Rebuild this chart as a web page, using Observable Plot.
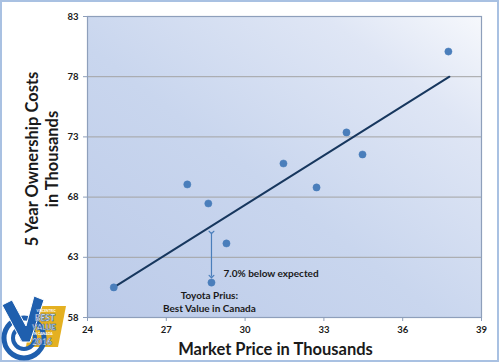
<!DOCTYPE html>
<html><head><meta charset="utf-8">
<script src="https://cdn.jsdelivr.net/npm/d3@7"></script>
<script src="https://cdn.jsdelivr.net/npm/@observablehq/plot@0.6"></script>
<style>
html,body{margin:0;padding:0;background:#fff;}
#wrap{position:relative;width:500px;height:363px;overflow:hidden;}
#frame,#logo{position:absolute;left:0;top:0;}
</style>
</head><body>
<div id="wrap"></div>
<script>
// Data
const priceX = [25.0, 27.8, 28.6, 28.72, 29.29, 31.46, 32.72, 33.86, 34.47, 37.74];
const costY  = [60.5, 69.05, 67.47, 60.9, 64.15, 70.79, 68.8, 73.37, 71.54, 80.09];
const trendX = [25.0, 37.78];
const trendY = [60.5, 78.0];
const xTicks = [24, 27, 30, 33, 36, 39];
const yTicks = [58, 63, 68, 73, 78, 83];
const arrowX = [28.72];
const arrowY1 = [65.06];
const arrowY2 = [61.4];
const noteText = ["7.0% below expected"];
const noteX = [29.18];
const noteY = [61.65];
const priusText = ["Toyota Prius:", "Best Value in Canada"];
const priusX = [28.64, 28.64];
const priusY = [59.83, 58.75];

const points = priceX.map((x, i) => ({x, y: costY[i]}));
const trend = trendX.map((x, i) => ({x, y: trendY[i]}));
const arrows = arrowX.map((x, i) => ({x, y1: arrowY1[i], y2: arrowY2[i]}));
const notes = noteText.map((t, i) => ({t, x: noteX[i], y: noteY[i]}));
const prius = priusText.map((t, i) => ({t, x: priusX[i], y: priusY[i]}));

const font = "Lato, 'Open Sans', sans-serif";
const ink = "#1a1a1a";

const chart = Plot.plot({
  width: 500, height: 363,
  marginLeft: 87, marginRight: 19, marginTop: 16, marginBottom: 46,
  style: {fontFamily: font, fontSize: "9.5px", fontWeight: "bold", color: ink, background: "transparent", overflow: "visible"},
  x: {domain: [24, 39]},
  y: {domain: [58, 83]},
  marks: [
    Plot.frame({fill: "url(#bgGrad)", stroke: null}),
    Plot.gridY(yTicks, {stroke: "#a3a3a3", strokeOpacity: 1, strokeWidth: 1}),
    Plot.frame({stroke: "#8e9fbb", strokeWidth: 1.2}),
    Plot.axisX(xTicks, {tickSize: 4, tickPadding: 5, stroke: "#8e9fbb", fill: ink, fontWeight: "bold", label: null}),
    Plot.axisY(yTicks, {tickSize: 4, tickPadding: 5, stroke: "#8e9fbb", fill: ink, fontWeight: "bold", label: null}),
    Plot.line(trend, {x: "x", y: "y", stroke: "#17375e", strokeWidth: 2}),
    Plot.dot(points, {x: "x", y: "y", r: 3.6, fill: "#4a7ebb", stroke: "#4a7ebb", strokeWidth: 0.5}),
    Plot.link(arrows, {x1: "x", x2: "x", y1: "y1", y2: "y2", stroke: "#4a7ebb", strokeWidth: 1.2, markerStart: "arrow", markerEnd: "arrow"}),
    Plot.text(notes, {x: "x", y: "y", text: "t", textAnchor: "start", fontSize: 10, fontWeight: "bold", fill: ink, fontFamily: font}),
    Plot.text(prius, {x: "x", y: "y", text: "t", textAnchor: "middle", fontSize: 10, fontWeight: "bold", fill: ink, fontFamily: font}),
    Plot.text(["Market Price in Thousands"], {frameAnchor: "bottom", dx: -9, dy: 32, fontSize: 16.5, fontWeight: "bold", fill: ink, fontFamily: font, lineAnchor: "middle"}),
    Plot.text(["5 Year Ownership Costs\nin Thousands"], {frameAnchor: "left", dx: -46, dy: -8, rotate: -90, fontSize: 16.5, lineHeight: 1.25, fontWeight: "bold", fill: ink, fontFamily: font, lineAnchor: "middle", textAnchor: "middle"})
  ]
});

// gradient for the plot area
const ns = "http://www.w3.org/2000/svg";
const defs = document.createElementNS(ns, "defs");
defs.innerHTML = `<linearGradient id="bgGrad" x1="0" y1="1" x2="1" y2="0">
  <stop offset="0" stop-color="#bccbe9"/>
  <stop offset="0.45" stop-color="#c9d6ee"/>
  <stop offset="0.8" stop-color="#dfe6f5"/>
  <stop offset="1" stop-color="#f6f8fc"/>
</linearGradient>`;
chart.insertBefore(defs, chart.firstChild);

const wrap = document.getElementById("wrap");
wrap.appendChild(chart);

// outer frame and logo overlay
const overlay = document.createElementNS(ns, "svg");
overlay.setAttribute("id", "logo");
overlay.setAttribute("width", 500);
overlay.setAttribute("height", 363);
overlay.innerHTML = `
<rect x="1" y="1" width="497" height="360" fill="none" stroke="#a9c1e2" stroke-width="2"/>
<g font-family="Lato, sans-serif" text-anchor="middle" fill="#fff">
  <polygon points="32,306 66,306 58,347 26,347" fill="#e4b021"/>
  <circle cx="24" cy="338" r="20" fill="none" stroke="#1f5fae" stroke-width="5"/>
  <circle cx="24" cy="338" r="11" fill="none" stroke="#1f5fae" stroke-width="4"/>
  <circle cx="24" cy="338" r="4" fill="#1f5fae"/>
  <polygon points="2,305 12,300 26,326 34,296 44,300 30,342 22,342" fill="#1f5fae" stroke="#fff" stroke-width="1"/>
  <text x="46" y="311.5" font-size="3.2" font-weight="bold">VINCENTRIC</text>
  <text x="45" y="321" font-size="8.5" font-weight="900" stroke="#1f5fae" stroke-width="0.5">BEST</text>
  <text x="44" y="329.5" font-size="7.5" font-weight="900" stroke="#1f5fae" stroke-width="0.5">VALUE</text>
  <text x="43" y="335" font-size="3.5" font-weight="bold">IN CANADA</text>
  <text x="42" y="344.5" font-size="8.5" font-weight="900" stroke="#1f5fae" stroke-width="0.5">2016</text>
</g>`;
wrap.appendChild(overlay);
</script>
</body></html>
